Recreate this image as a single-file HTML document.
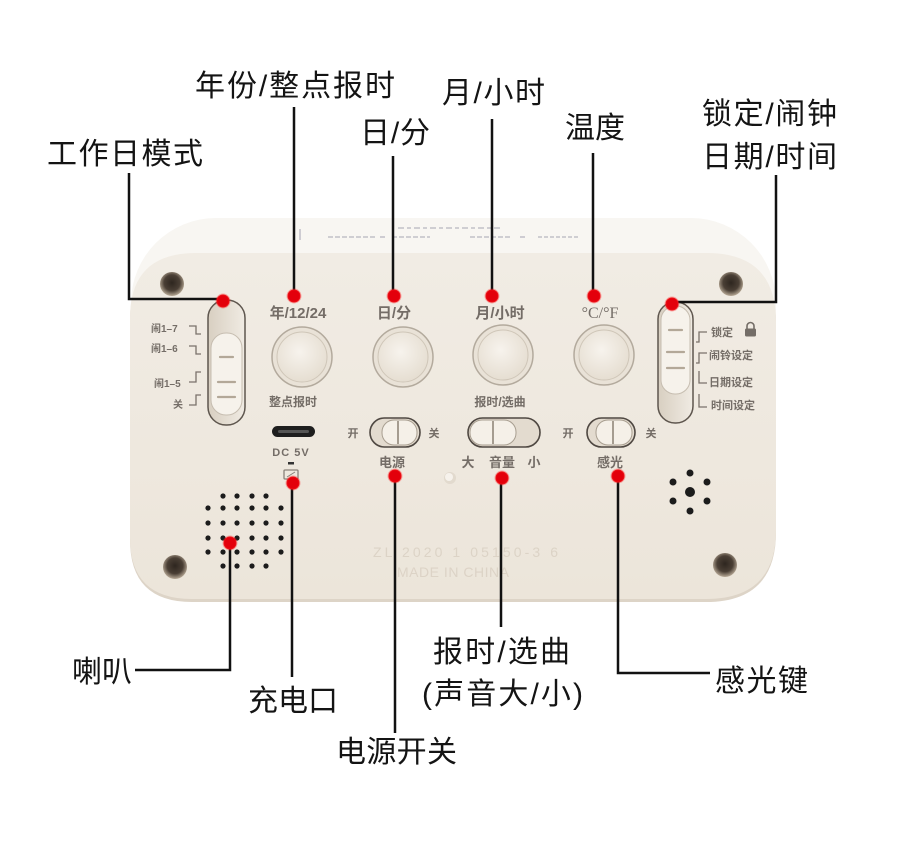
<!DOCTYPE html>
<html>
<head>
<meta charset="utf-8">
<style>
html,body{margin:0;padding:0;background:#fff;}
svg{display:block;}
.big{font-family:"Liberation Sans","Noto Sans CJK SC",sans-serif;font-size:30px;fill:#141414;}
.dev{font-family:"Liberation Sans","Noto Sans CJK SC",sans-serif;fill:#746d67;font-weight:bold;}
</style>
</head>
<body>
<svg width="900" height="857" viewBox="0 0 900 857" xmlns="http://www.w3.org/2000/svg">
<defs>
  <linearGradient id="panel" x1="0" y1="0" x2="0" y2="1">
    <stop offset="0" stop-color="#f1ece4"/>
    <stop offset="1" stop-color="#ece5da"/>
  </linearGradient>
  <radialGradient id="screw" cx="0.5" cy="0.45" r="0.55">
    <stop offset="0" stop-color="#2e261f"/>
    <stop offset="0.6" stop-color="#4a3f35"/>
    <stop offset="1" stop-color="#b9ab98"/>
  </radialGradient>
  <radialGradient id="btn" cx="0.45" cy="0.4" r="0.65">
    <stop offset="0" stop-color="#f7f3ed"/>
    <stop offset="1" stop-color="#e4dccf"/>
  </radialGradient>
  <linearGradient id="slot" x1="0" y1="0" x2="1" y2="0">
    <stop offset="0" stop-color="#d8cfc1"/>
    <stop offset="1" stop-color="#f0ebe3"/>
  </linearGradient>
</defs>

<!-- upper face of clock -->
<rect x="131" y="218" width="645" height="330" rx="85" ry="85" fill="#f8f6f2"/>
<!-- printed marks on upper face -->
<g stroke="#9c9cab" stroke-width="1.3" opacity="0.7">
  <line x1="398" y1="228" x2="500" y2="228" stroke-dasharray="6 3 4 3"/>
  <line x1="328" y1="237" x2="375" y2="237" stroke-dasharray="5 2"/>
  <line x1="380" y1="237" x2="385" y2="237"/>
  <line x1="392" y1="237" x2="430" y2="237" stroke-dasharray="5 2"/>
  <line x1="470" y1="237" x2="510" y2="237" stroke-dasharray="5 2"/>
  <line x1="520" y1="237" x2="525" y2="237"/>
  <line x1="538" y1="237" x2="578" y2="237" stroke-dasharray="4 2"/>
  <line x1="300" y1="229" x2="300" y2="240"/>
</g>

<!-- main panel shadow + panel -->
<path d="M196,255 H707 Q776,255 776,324 V532 Q776,602 706,602 H192 Q130,602 130,540 V320 Q130,255 196,255 Z" fill="#ddd4c7"/>
<path d="M196,253 H707 Q776,253 776,322 V530 Q776,599 706,599 H192 Q130,599 130,538 V318 Q130,253 196,253 Z" fill="url(#panel)"/>

<!-- screw holes -->
<circle cx="172" cy="284" r="12" fill="url(#screw)"/>
<circle cx="731" cy="284" r="12" fill="url(#screw)"/>
<circle cx="175" cy="567" r="12" fill="url(#screw)"/>
<circle cx="725" cy="565" r="12" fill="url(#screw)"/>

<!-- left vertical switch -->
<rect x="208" y="300" width="37" height="125" rx="18" fill="url(#slot)" stroke="#5e564e" stroke-width="1.5"/>
<rect x="211" y="333" width="31" height="82" rx="15" fill="#f6f2eb" stroke="#c6bdb0" stroke-width="1"/>
<g stroke="#b3a898" stroke-width="2.2" stroke-linecap="round">
  <line x1="220" y1="357" x2="233" y2="357"/>
  <line x1="218" y1="382" x2="235" y2="382"/>
  <line x1="218" y1="397" x2="235" y2="397"/>
</g>
<g class="dev" font-size="10">
  <text x="151" y="332">闹1–7</text>
  <text x="151" y="352">闹1–6</text>
  <text x="154" y="387">闹1–5</text>
  <text x="173" y="408">关</text>
</g>
<g fill="none" stroke="#7a726b" stroke-width="1.3">
  <path d="M189,326 H196 V334 H201"/>
  <path d="M189,346 H196 V354 H201"/>
  <path d="M189,382 H196 V372 H201"/>
  <path d="M189,405 H196 V395 H201"/>
</g>

<!-- right vertical switch -->
<rect x="658" y="302" width="35" height="121" rx="17" fill="url(#slot)" stroke="#5e564e" stroke-width="1.5"/>
<rect x="661" y="306" width="29" height="88" rx="14" fill="#f6f2eb" stroke="#c6bdb0" stroke-width="1"/>
<g stroke="#b3a898" stroke-width="2.2" stroke-linecap="round">
  <line x1="669" y1="330" x2="682" y2="330"/>
  <line x1="667" y1="352" x2="684" y2="352"/>
  <line x1="667" y1="368" x2="684" y2="368"/>
</g>
<g class="dev" font-size="11">
  <text x="711" y="336">锁定</text>
  <text x="709" y="359">闹铃设定</text>
  <text x="709" y="386">日期设定</text>
  <text x="711" y="409">时间设定</text>
</g>
<!-- lock icon -->
<path d="M747,329 V326 a3.5,3.5 0 0 1 7,0 V329" fill="none" stroke="#746d67" stroke-width="1.6"/>
<rect x="745" y="328.5" width="11" height="8" rx="1.5" fill="#746d67"/>
<g fill="none" stroke="#7a726b" stroke-width="1.3">
  <path d="M696,342 H699 V332 H707"/>
  <path d="M696,363 H699 V353 H707"/>
  <path d="M699,371 V383 H707"/>
  <path d="M699,394 V407 H707"/>
</g>

<!-- top small labels -->
<g class="dev" font-size="15" text-anchor="middle">
  <text x="298" y="318">年/12/24</text>
  <text x="394" y="318">日/分</text>
  <text x="500" y="318">月/小时</text>
</g>
<text x="600" y="318" text-anchor="middle" font-family="Liberation Serif, serif" font-size="16" fill="#746d67">°C/°F</text>

<!-- round buttons -->
<g>
  <circle cx="302" cy="357" r="30" fill="#e9e2d7" stroke="#b3aa9d" stroke-width="1.5"/>
  <circle cx="302" cy="357" r="25" fill="url(#btn)" stroke="#cfc6b8" stroke-width="1"/>
  <circle cx="403" cy="357" r="30" fill="#e9e2d7" stroke="#b3aa9d" stroke-width="1.5"/>
  <circle cx="403" cy="357" r="25" fill="url(#btn)" stroke="#cfc6b8" stroke-width="1"/>
  <circle cx="503" cy="355" r="30" fill="#e9e2d7" stroke="#b3aa9d" stroke-width="1.5"/>
  <circle cx="503" cy="355" r="25" fill="url(#btn)" stroke="#cfc6b8" stroke-width="1"/>
  <circle cx="604" cy="355" r="30" fill="#e9e2d7" stroke="#b3aa9d" stroke-width="1.5"/>
  <circle cx="604" cy="355" r="25" fill="url(#btn)" stroke="#cfc6b8" stroke-width="1"/>
</g>
<g class="dev" font-size="12" text-anchor="middle">
  <text x="293" y="406">整点报时</text>
  <text x="500" y="406">报时/选曲</text>
</g>

<!-- USB-C -->
<rect x="272" y="426" width="43" height="11" rx="5.5" fill="#1e1e1e"/>
<rect x="278" y="430" width="31" height="3" rx="1.5" fill="#555"/>
<text class="dev" x="291" y="456" font-size="11" text-anchor="middle" letter-spacing="1">DC 5V</text>
<rect x="288" y="462" width="6" height="2.5" fill="#333"/>
<rect x="284" y="470" width="14" height="9" rx="1" fill="none" stroke="#8a827a" stroke-width="1.3"/>
<line x1="287" y1="477" x2="295" y2="472" stroke="#8a827a" stroke-width="1"/>

<!-- horizontal switches -->
<rect x="370" y="418" width="50" height="29" rx="14.5" fill="#e3dbcf" stroke="#4f4842" stroke-width="1.6"/>
<rect x="382" y="420" width="35" height="25" rx="12" fill="#f5f0e8" stroke="#a89e90" stroke-width="1"/>
<line x1="398" y1="421" x2="398" y2="444" stroke="#8a8073" stroke-width="1.5"/>

<rect x="468" y="418" width="72" height="29" rx="14.5" fill="#e3dbcf" stroke="#4f4842" stroke-width="1.6"/>
<rect x="470" y="420" width="46" height="25" rx="12" fill="#f5f0e8" stroke="#a89e90" stroke-width="1"/>
<line x1="493" y1="421" x2="493" y2="444" stroke="#8a8073" stroke-width="1.5"/>

<rect x="587" y="418" width="48" height="29" rx="14.5" fill="#e3dbcf" stroke="#4f4842" stroke-width="1.6"/>
<rect x="596" y="420" width="36" height="25" rx="12" fill="#f5f0e8" stroke="#a89e90" stroke-width="1"/>
<line x1="613" y1="421" x2="613" y2="444" stroke="#8a8073" stroke-width="1.5"/>

<g class="dev" font-size="11" text-anchor="middle">
  <text x="353" y="437">开</text>
  <text x="434" y="437">关</text>
  <text x="568" y="437">开</text>
  <text x="651" y="437">关</text>
</g>
<g class="dev" font-size="13" text-anchor="middle">
  <text x="392" y="467">电源</text>
  <text x="468" y="467">大</text>
  <text x="502" y="467">音量</text>
  <text x="534" y="467">小</text>
  <text x="610" y="467">感光</text>
</g>

<!-- small hole -->
<circle cx="450" cy="478" r="6" fill="#e2dace"/>
<circle cx="449" cy="477" r="4" fill="#f6f2ec"/>

<!-- speaker grid -->
<g fill="#1c1c1c">
  <circle cx="223" cy="496" r="2.6"/><circle cx="237" cy="496" r="2.6"/><circle cx="252" cy="496" r="2.6"/><circle cx="266" cy="496" r="2.6"/>
  <circle cx="208" cy="508" r="2.6"/><circle cx="223" cy="508" r="2.6"/><circle cx="237" cy="508" r="2.6"/><circle cx="252" cy="508" r="2.6"/><circle cx="266" cy="508" r="2.6"/><circle cx="281" cy="508" r="2.6"/>
  <circle cx="208" cy="523" r="2.6"/><circle cx="223" cy="523" r="2.6"/><circle cx="237" cy="523" r="2.6"/><circle cx="252" cy="523" r="2.6"/><circle cx="266" cy="523" r="2.6"/><circle cx="281" cy="523" r="2.6"/>
  <circle cx="208" cy="538" r="2.6"/><circle cx="223" cy="538" r="2.6"/><circle cx="237" cy="538" r="2.6"/><circle cx="252" cy="538" r="2.6"/><circle cx="266" cy="538" r="2.6"/><circle cx="281" cy="538" r="2.6"/>
  <circle cx="208" cy="552" r="2.6"/><circle cx="223" cy="552" r="2.6"/><circle cx="237" cy="552" r="2.6"/><circle cx="252" cy="552" r="2.6"/><circle cx="266" cy="552" r="2.6"/><circle cx="281" cy="552" r="2.6"/>
  <circle cx="223" cy="566" r="2.6"/><circle cx="237" cy="566" r="2.6"/><circle cx="252" cy="566" r="2.6"/><circle cx="266" cy="566" r="2.6"/>
</g>

<!-- mic holes -->
<g fill="#1c1c1c">
  <circle cx="690" cy="492" r="5"/>
  <circle cx="690" cy="473" r="3.5"/>
  <circle cx="673" cy="482" r="3.5"/>
  <circle cx="707" cy="482" r="3.5"/>
  <circle cx="673" cy="501" r="3.5"/>
  <circle cx="707" cy="501" r="3.5"/>
  <circle cx="690" cy="511" r="3.5"/>
</g>

<!-- embossed text -->
<g font-family="Liberation Sans, sans-serif" font-size="14" fill="#dcd3c6">
  <text x="373" y="557" textLength="185">ZL 2020 1 05150-3 6</text>
  <text x="397" y="577" textLength="112">MADE IN CHINA</text>
</g>

<!-- connector lines -->
<g fill="none" stroke="#111" stroke-width="2.5">
  <polyline points="129,173 129,299 222,299"/>
  <line x1="294" y1="107" x2="294" y2="296"/>
  <line x1="393" y1="156" x2="393" y2="297"/>
  <line x1="492" y1="119" x2="492" y2="296"/>
  <line x1="593" y1="153" x2="593" y2="295"/>
  <polyline points="776,175 776,302 671,302"/>
  <polyline points="230,543 230,670 135,670"/>
  <line x1="292" y1="483" x2="292" y2="677"/>
  <line x1="395" y1="476" x2="395" y2="733"/>
  <line x1="501" y1="478" x2="501" y2="627"/>
  <polyline points="618,476 618,673 710,673"/>
</g>

<!-- red dots -->
<g fill="#e3000b" stroke="rgba(255,40,40,0.35)" stroke-width="2">
  <circle cx="223" cy="301" r="6.5"/>
  <circle cx="294" cy="296" r="6.5"/>
  <circle cx="394" cy="296" r="6.5"/>
  <circle cx="492" cy="296" r="6.5"/>
  <circle cx="594" cy="296" r="6.5"/>
  <circle cx="672" cy="304" r="6.5"/>
  <circle cx="230" cy="543" r="6.5"/>
  <circle cx="293" cy="483" r="6.5"/>
  <circle cx="395" cy="476" r="6.5"/>
  <circle cx="502" cy="478" r="6.5"/>
  <circle cx="618" cy="476" r="6.5"/>
</g>

<!-- big labels -->
<g class="big">
  <text x="47" y="164" textLength="156" lengthAdjust="spacing">工作日模式</text>
  <text x="195" y="96" textLength="200" lengthAdjust="spacing">年份/整点报时</text>
  <text x="360" y="143" textLength="70" lengthAdjust="spacing">日/分</text>
  <text x="442" y="103" textLength="103" lengthAdjust="spacing">月/小时</text>
  <text x="565" y="138" textLength="60" lengthAdjust="spacing">温度</text>
  <text x="702" y="124" textLength="135" lengthAdjust="spacing">锁定/闹钟</text>
  <text x="702" y="167" textLength="135" lengthAdjust="spacing">日期/时间</text>
  <text x="72" y="682" textLength="60" lengthAdjust="spacing">喇叭</text>
  <text x="248" y="711" textLength="90" lengthAdjust="spacing">充电口</text>
  <text x="336" y="762" textLength="121" lengthAdjust="spacing">电源开关</text>
  <text x="433" y="662" textLength="137" lengthAdjust="spacing">报时/选曲</text>
  <text x="422" y="704" textLength="161" lengthAdjust="spacing">(声音大/小)</text>
  <text x="715" y="691" textLength="93" lengthAdjust="spacing">感光键</text>
</g>
</svg>
</body>
</html>
